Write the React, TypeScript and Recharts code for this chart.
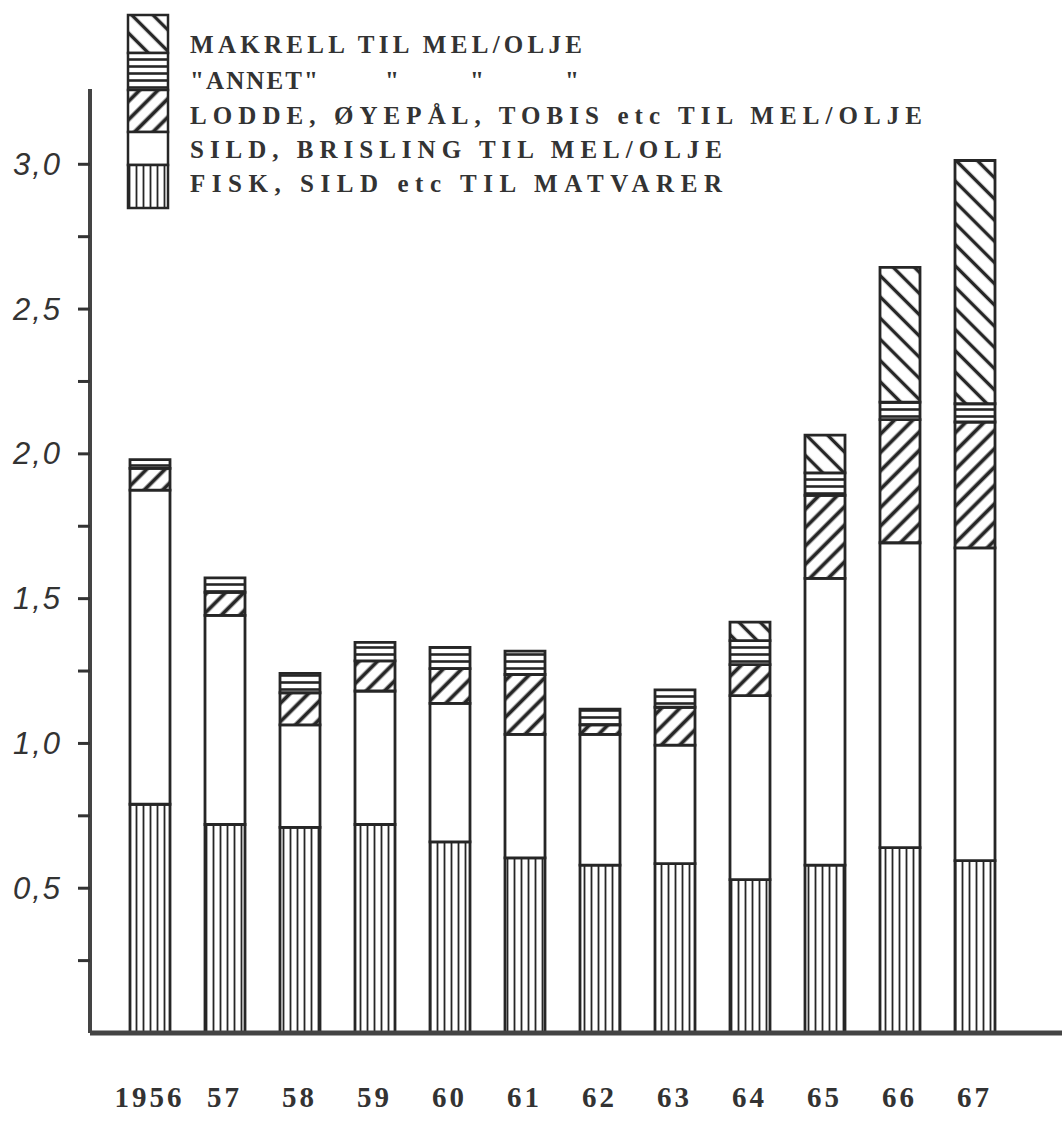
import React from "react";
import { Bar, BarChart, XAxis, YAxis } from "recharts";

// Catch per year (mill. tonn).
const years = ["1956", "57", "58", "59", "60", "61", "62", "63", "64", "65", "66", "67"];
const fisk = [0.79, 0.72, 0.71, 0.72, 0.66, 0.605, 0.58, 0.585, 0.53, 0.58, 0.64, 0.595];
const sild = [1.085, 0.722, 0.354, 0.461, 0.478, 0.426, 0.451, 0.409, 0.635, 0.99, 1.053, 1.08];
const lodde = [0.075, 0.08, 0.111, 0.104, 0.12, 0.207, 0.033, 0.131, 0.107, 0.287, 0.425, 0.435];
const annet = [0.03, 0.05, 0.067, 0.064, 0.074, 0.081, 0.054, 0.06, 0.083, 0.077, 0.061, 0.063];
const makrell = [0, 0, 0, 0, 0, 0, 0, 0, 0.064, 0.131, 0.465, 0.84];

const yTicks = [0.25, 0.5, 0.75, 1, 1.25, 1.5, 1.75, 2, 2.25, 2.5, 2.75, 3];

const legendRows = [
  { key: "makrell", label: "MAKRELL TIL MEL/OLJE" },
  { key: "annet", label: "\"ANNET\"" },
  { key: "lodde", label: "LODDE, ØYEPÅL, TOBIS etc TIL MEL/OLJE" },
  { key: "sild", label: "SILD, BRISLING TIL MEL/OLJE" },
  { key: "fisk", label: "FISK, SILD etc TIL MATVARER" },
];
const dittoX = [385, 470, 565];

const data = years.map((year, i) => ({
  year,
  fisk: fisk[i],
  sild: sild[i],
  lodde: lodde[i],
  annet: annet[i],
  makrell: makrell[i],
}));

const INK = "#262626";
const typewriter = "'Liberation Serif', 'DejaVu Serif', serif";

function Patterns(props: { prefix: string }) {
  const p = props.prefix;
  return (
    <defs>
      <pattern id={`${p}fisk`} patternUnits="userSpaceOnUse" width="7" height="10">
        <rect width="7" height="10" fill="#fff" />
        <line x1="3.5" y1="0" x2="3.5" y2="10" stroke={INK} strokeWidth="1.8" />
      </pattern>
      <pattern id={`${p}lodde`} patternUnits="userSpaceOnUse" width="13" height="13" patternTransform="rotate(45)">
        <rect width="13" height="13" fill="#fff" />
        <line x1="6.5" y1="0" x2="6.5" y2="13" stroke={INK} strokeWidth="3.8" />
      </pattern>
      <pattern id={`${p}annet`} patternUnits="userSpaceOnUse" width="10" height="7">
        <rect width="10" height="7" fill="#fff" />
        <line x1="0" y1="3.5" x2="10" y2="3.5" stroke={INK} strokeWidth="2.6" />
      </pattern>
      <pattern id={`${p}makrell`} patternUnits="userSpaceOnUse" width="15" height="15" patternTransform="rotate(-45)">
        <rect width="15" height="15" fill="#fff" />
        <line x1="7.5" y1="0" x2="7.5" y2="15" stroke={INK} strokeWidth="3.4" />
      </pattern>
    </defs>
  );
}

function YTick(props: { x?: number; y?: number; payload?: { value: number } }) {
  const v = props.payload ? props.payload.value : 0;
  if (Math.abs(v * 2 - Math.round(v * 2)) > 1e-6) {
    return null;
  }
  return (
    <text
      x={62}
      y={props.y}
      textAnchor="end"
      dominantBaseline="central"
      fontFamily="'Liberation Sans', Arial, sans-serif"
      fontStyle="italic"
      fontSize={31}
      letterSpacing={2}
      fill="#333"
    >
      {v.toFixed(1).replace(".", ",")}
    </text>
  );
}

function XTick(props: { x?: number; y?: number; payload?: { value: string } }) {
  return (
    <text
      x={props.x}
      y={1097}
      textAnchor="middle"
      dominantBaseline="central"
      fontFamily={typewriter}
      fontWeight="bold"
      fontSize={29}
      letterSpacing={3}
      fill="#333"
    >
      {props.payload ? props.payload.value : ""}
    </text>
  );
}

function LegendBlock() {
  // swatch segments, top to bottom
  const segs = [
    { key: "makrell", y: 15, h: 38 },
    { key: "annet", y: 53, h: 37 },
    { key: "lodde", y: 90, h: 42 },
    { key: "sild", y: 132, h: 33 },
    { key: "fisk", y: 165, h: 43 },
  ];
  const rowY = [44, 80, 115, 149, 183];
  return (
    <svg width={1062} height={220} style={{ position: "absolute", left: 0, top: 0 }}>
      <Patterns prefix="lg-" />
      {segs.map((s) => (
        <rect
          key={s.key}
          x={128}
          y={s.y}
          width={40}
          height={s.h}
          fill={s.key === "sild" ? "#fff" : `url(#lg-${s.key})`}
          stroke={INK}
          strokeWidth={2.5}
        />
      ))}
      {legendRows.map((r, i) => (
        <text
          key={r.key}
          x={190}
          y={rowY[i]}
          dominantBaseline="central"
          fontFamily={typewriter}
          fontWeight="bold"
          fontSize={25}
          textLength={r.key === "annet" ? 128 : r.label.length * 20 - 8}
          lengthAdjust="spacing"
          fill="#333"
        >
          {r.label}
        </text>
      ))}
      {dittoX.map((x) => (
        <text key={x} x={x} y={rowY[1]} dominantBaseline="central" fontFamily={typewriter} fontWeight="bold" fontSize={25} fill="#333">
          "
        </text>
      ))}
    </svg>
  );
}

export default function App() {
  return (
    <div style={{ position: "absolute", left: 0, top: 0, width: 1062, height: 1128, background: "#fff" }}>
      <BarChart width={1062} height={1128} data={data} margin={{ top: 89, right: 0, bottom: 65, left: 0 }} barSize={40}>
        <Patterns prefix="ch-" />
        <XAxis
          dataKey="year"
          padding={{ left: 22, right: 50 }}
          axisLine={{ stroke: "#444", strokeWidth: 5 }}
          tickLine={false}
          tick={<XTick />}
          interval={0}
        />
        <YAxis
          width={90}
          domain={[0, 3.26]}
          ticks={yTicks}
          allowDataOverflow
          axisLine={{ stroke: "#444", strokeWidth: 4 }}
          tickLine={{ stroke: "#333", strokeWidth: 3 }}
          tickSize={12}
          tick={<YTick />}
        />
        <Bar dataKey="fisk" stackId="a" fill="url(#ch-fisk)" stroke={INK} strokeWidth={2.8} isAnimationActive={false} />
        <Bar dataKey="sild" stackId="a" fill="#fff" stroke={INK} strokeWidth={2.8} isAnimationActive={false} />
        <Bar dataKey="lodde" stackId="a" fill="url(#ch-lodde)" stroke={INK} strokeWidth={2.8} isAnimationActive={false} />
        <Bar dataKey="annet" stackId="a" fill="url(#ch-annet)" stroke={INK} strokeWidth={2.8} isAnimationActive={false} />
        <Bar dataKey="makrell" stackId="a" fill="url(#ch-makrell)" stroke={INK} strokeWidth={2.8} isAnimationActive={false} />
      </BarChart>
      <LegendBlock />
    </div>
  );
}
